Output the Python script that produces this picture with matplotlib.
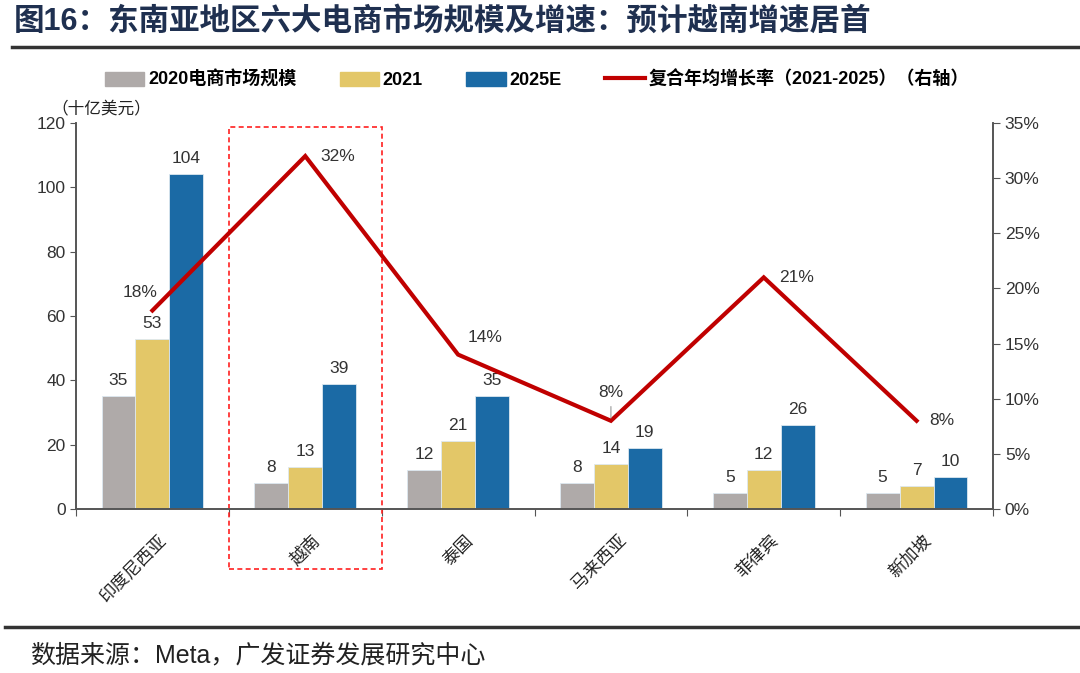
import matplotlib
matplotlib.use("Agg")
import matplotlib.pyplot as plt
from matplotlib.patches import Patch, Rectangle
from matplotlib.lines import Line2D
import numpy as np

plt.rcParams['font.family'] = ['Liberation Sans', 'Noto Sans CJK SC', 'DejaVu Sans']

categories = ['印度尼西亚', '越南', '泰国', '马来西亚', '菲律宾', '新加坡']
v2020 = [35, 8, 12, 8, 5, 5]
v2021 = [53, 13, 21, 14, 12, 7]
v2025 = [104, 39, 35, 19, 26, 10]
cagr = [18, 32, 14, 8, 21, 8]
left_ticks = [0, 20, 40, 60, 80, 100, 120]
right_ticks = [0, 5, 10, 15, 20, 25, 30, 35]

c_gray = '#AFAAA9'
c_yellow = '#E3C768'
c_blue = '#1B6AA5'
c_red = '#C00000'
c_text = '#333333'
c_spine = '#555555'

fig = plt.figure(figsize=(10.8, 6.73), dpi=100)
ax = fig.add_axes([76/1080, 1-509/673, (993-76)/1080, (509-123)/673])
ax2 = ax.twinx()

x = np.arange(len(categories))
w = 0.222
for off, vals, col in [(-w, v2020, c_gray), (0, v2021, c_yellow), (w, v2025, c_blue)]:
    bars = ax.bar(x + off, vals, width=w, color=col, edgecolor='#DDE8F0', linewidth=0.6, zorder=2)
    for b, v in zip(bars, vals):
        ax.annotate(f'{v}', (b.get_x() + b.get_width()/2, v), xytext=(0, 8),
                    textcoords='offset pixels', ha='center', va='bottom',
                    fontsize=12.5, color=c_text)

ax.set_xlim(-0.5, 5.5)
ax.set_ylim(0, 120)
ax.set_yticks(left_ticks)
ax.set_xticks(np.arange(-0.5, 6.0, 1.0))
ax.set_xticklabels([])
ax.tick_params(axis='x', length=5, color=c_spine, direction='out')
ax.tick_params(axis='y', length=4, color=c_spine, labelsize=12.5, labelcolor=c_text)
for t, lab in zip(x, categories):
    ax.text(t + 0.04, -7, lab, rotation=45, rotation_mode='anchor', ha='right', va='top',
            fontsize=12.5, color='#222222', transform=ax.transData, family=['Noto Sans CJK SC'])

ax2.plot(x, cagr, color=c_red, linewidth=3, zorder=3, solid_joinstyle='miter')
ax2.set_ylim(0, 35)
ax2.set_yticks(right_ticks)
ax2.set_yticklabels([f'{t}%' for t in right_ticks])
ax2.tick_params(axis='y', length=5, color=c_spine, labelsize=12.5, labelcolor=c_text)

offsets = [(-12, 18), (32, 0), (27, 17), (0, 28), (33, 0), (25, 0)]
for xi, v, (dx, dy) in zip(x, cagr, offsets):
    ax2.annotate(f'{v}%', (xi, v), xytext=(dx, dy), textcoords='offset pixels',
                 ha='center', va='center', fontsize=12.5, color=c_text)
# small leader line for Malaysia label
ax2.annotate('', (3, 8), xytext=(0, 17), textcoords='offset pixels',
             arrowprops=dict(arrowstyle='-', color='#999999', lw=0.8))

for a in (ax, ax2):
    a.spines['top'].set_visible(False)
    for s in ['left', 'right', 'bottom']:
        a.spines[s].set_color(c_spine)
        a.spines[s].set_linewidth(1.2)

# dashed highlight box
rect = Rectangle((0.5, -18.5), 1.0, 137.4, fill=False, linestyle=(0, (3, 2)),
                 edgecolor='#FF2020', linewidth=1.2, clip_on=False, zorder=5, transform=ax.transData)
ax.add_patch(rect)

ax.text(-0.66, 121.5, '（十亿美元）', fontsize=12, color='#222222', ha='left', va='bottom',
        family=['Noto Sans CJK SC'])

handles = [Patch(color=c_gray), Patch(color=c_yellow), Patch(color=c_blue),
           Line2D([0], [0], color=c_red, lw=3)]
labels = ['2020电商市场规模', '2021', '2025E', '复合年均增长率（2021-2025）（右轴）']
fig.legend(handles, labels, loc='center', bbox_to_anchor=(0.497, 1-80/673), ncol=4,
           frameon=False, prop={'weight': 'bold', 'size': 13}, handlelength=2.2,
           handleheight=0.8, handletextpad=0.2, columnspacing=2.4)

fig.text(14/1080, 1-22/673, '图16：东南亚地区六大电商市场规模及增速：预计越南增速居首',
         fontsize=22, fontweight='bold', color='#1F3050', ha='left', va='center')
fig.add_artist(Line2D([12/1080, 1], [1-47/673, 1-47/673], color='#333333', lw=2.5))
fig.add_artist(Line2D([5/1080, 1], [1-627/673, 1-627/673], color='#333333', lw=2.5))
fig.text(30/1080, 1-655/673, '数据来源：Meta，广发证券发展研究中心', fontsize=18,
         color='#222222', ha='left', va='center')

fig.savefig('out.png', dpi=100)
